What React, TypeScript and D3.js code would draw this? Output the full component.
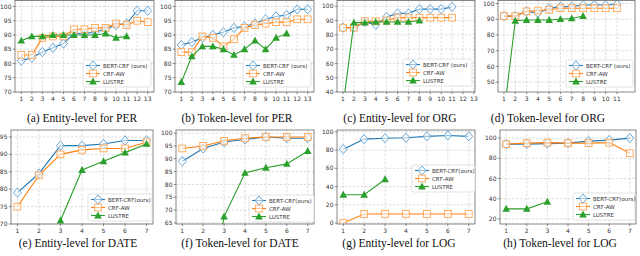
import React from 'react';
import * as d3 from 'd3';

// x positions (number of training steps)
const x13 = [1, 2, 3, 4, 5, 6, 7, 8, 9, 10, 11, 12, 13];
const x11 = [1, 2, 3, 4, 5, 6, 7, 8, 9, 10, 11];
const x8 = [1, 2, 3, 4, 5, 6, 7, 8];
const x7 = [1, 2, 3, 4, 5, 6, 7];
const x3 = [1, 2, 3];
const x3to7 = [3, 4, 5, 6, 7];
const x2to7 = [2, 3, 4, 5, 6, 7];

// (a) Entity-level PER
const perEntBert = [81, 82, 84, 85.5, 87, 90.5, 90.5, 91, 92, 93.5, 94, 98.5, 98.5];
const perEntCrf = [83, 83, 89, 89.5, 89.5, 92, 92, 92.5, 92.5, 94, 93.5, 95, 94.5];
const perEntLustre = [88, 89.5, 89.5, 90, 90, 90, 90, 90, 90.5, 89, 89.5];
// (b) Token-level PER
const perTokBert = [86.5, 87.5, 89, 90, 91, 92.5, 93, 94, 95.5, 96.5, 97, 99, 99];
const perTokCrf = [84, 84, 89.5, 89, 86, 88.5, 92.5, 93.5, 94, 94.5, 94.5, 95.5, 95.5];
const perTokLustre = [73.5, 82.5, 86, 86, 85, 83, 85, 88, 85, 89, 90.5];
// (c) Entity-level ORG
const orgEntBert = [85, 85, 89, 87, 92.5, 95, 95, 98, 98, 98, 99.5];
const orgEntCrf = [85, 85, 89.5, 89.5, 90, 92, 92, 92, 92, 92, 92];
const orgEntLustre = [30, 88.5, 88.5, 89, 89, 89, 89, 90];
// (d) Token-level ORG
const orgTokBert = [92, 92, 95, 94, 97, 98, 98, 99, 99, 99, 99.5];
const orgTokCrf = [92, 92, 95, 95.5, 96, 97, 97, 97, 97, 97, 97];
const orgTokLustre = [30, 89, 89.5, 89.5, 89.5, 90, 90.5, 92];
// (e) Entity-level DATE
const dateEntBert = [79, 84.5, 92.5, 92.5, 93, 94, 94];
const dateEntCrf = [75, 84, 90, 91.3, 91.7, 91.7, 93.5];
const dateEntLustre = [71, 85.5, 88, 90.5, 93];
// (f) Token-level DATE
const dateTokBert = [89, 94, 96.5, 97.5, 98.5, 98, 98];
const dateTokCrf = [94, 95, 97, 98, 98.5, 98.5, 98.5];
const dateTokLustre = [20, 67.5, 84.5, 86.5, 88, 93];
// (g) Entity-level LOG
const logEntBert = [81, 92, 93, 93.5, 95, 96, 95];
const logEntCrf = [0, 10, 10, 10, 10, 10, 10];
const logEntLustre = [31, 31, 48];
// (h) Token-level LOG
const logTokBert = [94, 94, 94.5, 95, 97, 98, 100];
const logTokCrf = [94, 95, 95.5, 95, 95, 95.5, 85];
const logTokLustre = [30, 30, 37];

const ticks7 = x7;
const yTicksPer = [70, 75, 80, 85, 90, 95, 100];
const yTicksOrgE = [40, 50, 60, 70, 80, 90, 100];
const yTicksOrgT = [50, 60, 70, 80, 90, 100];
const yTicksDateE = [70, 75, 80, 85, 90, 95];
const yTicksDateT = [65, 70, 75, 80, 85, 90, 95, 100];
const yTicksLog = [0, 20, 40, 60, 80, 100];
const yTicksLogT = [20, 40, 60, 80, 100];

const BLUE = '#1f77b4';
const ORANGE = '#ff7f0e';
const GREEN = '#2ca02c';

type Kind = 'bert' | 'crf' | 'lustre';
interface Series { kind: Kind; xs: number[]; ys: number[] }
interface PanelCfg {
  id: string;
  caption: string;
  captionX: number;
  left: number; right: number; top: number; bottom: number;
  xDomain: [number, number];
  yDomain: [number, number];
  xTicks: number[];
  yTicks: number[];
  legend: [number, number, number];
  bertLabel: string;
  series: Series[];
}

const mk = (b: number[], bx: number[], c: number[], cx: number[], l: number[], lx: number[]): Series[] => [
  { kind: 'bert', xs: bx, ys: b },
  { kind: 'crf', xs: cx, ys: c },
  { kind: 'lustre', xs: lx, ys: l },
];

const topRow = { top: 0.5, bottom: 92 };
const botRow = { top: 130, bottom: 224 };

const panels: PanelCfg[] = [
  { id: 'a', caption: '(a) Entity-level for PER', captionX: 82, left: 15, right: 154, ...topRow,
    xDomain: [0.4, 13.6], yDomain: [70, 102.1], xTicks: x13, yTicks: yTicksPer, legend: [83, 60, 68],
    bertLabel: 'BERT-CRF (ours)', series: mk(perEntBert, x13, perEntCrf, x13, perEntLustre, x11) },
  { id: 'b', caption: '(b) Token-level for PER', captionX: 237, left: 175, right: 314, ...topRow,
    xDomain: [0.4, 13.6], yDomain: [70, 102.1], xTicks: x13, yTicks: yTicksPer, legend: [243, 60, 68],
    bertLabel: 'BERT-CRF (ours)', series: mk(perTokBert, x13, perTokCrf, x13, perTokLustre, x11) },
  { id: 'c', caption: '(c) Entity-level for ORG', captionX: 400, left: 337, right: 475, ...topRow,
    xDomain: [0.45, 13.1], yDomain: [40, 104], xTicks: x13, yTicks: yTicksOrgE, legend: [403, 59, 69],
    bertLabel: 'BERT-CRF (ours)', series: mk(orgEntBert, x11, orgEntCrf, x11, orgEntLustre, x8) },
  { id: 'd', caption: '(d) Token-level for ORG', captionX: 548, left: 498, right: 635, ...topRow,
    xDomain: [0.47, 12.6], yDomain: [43.75, 101.9], xTicks: x11, yTicks: yTicksOrgT, legend: [566, 60, 67],
    bertLabel: 'BERT-CRF (ours)', series: mk(orgTokBert, x11, orgTokCrf, x11, orgTokLustre, x8) },
  { id: 'e', caption: '(e) Entity-level for DATE', captionX: 78, left: 11, right: 153, ...botRow,
    xDomain: [0.7, 7.3], yDomain: [70, 97], xTicks: ticks7, yTicks: yTicksDateE, legend: [88, 194, 64],
    bertLabel: 'BERT-CRF(ours)', series: mk(dateEntBert, x7, dateEntCrf, x7, dateEntLustre, x3to7) },
  { id: 'f', caption: '(f) Token-level for DATE', captionX: 240, left: 176, right: 314, ...botRow,
    xDomain: [0.7, 7.3], yDomain: [64.6, 101.2], xTicks: ticks7, yTicks: yTicksDateT, legend: [249, 195, 65],
    bertLabel: 'BERT-CRF(ours)', series: mk(dateTokBert, x7, dateTokCrf, x7, dateTokLustre, x2to7) },
  { id: 'g', caption: '(g) Entity-level for LOG', captionX: 399, left: 337, right: 475, ...botRow,
    xDomain: [0.7, 7.3], yDomain: [-1, 102], xTicks: ticks7, yTicks: yTicksLog, legend: [412, 165, 63],
    bertLabel: 'BERT-CRF(ours)', series: mk(logEntBert, x7, logEntCrf, x7, logEntLustre, x3) },
  { id: 'h', caption: '(h) Token-level for LOG', captionX: 560, left: 500, right: 636, ...botRow,
    xDomain: [0.7, 7.3], yDomain: [15, 108], xTicks: ticks7, yTicks: yTicksLogT, legend: [573, 193, 62],
    bertLabel: 'BERT-CRF(ours)', series: mk(logTokBert, x7, logTokCrf, x7, logTokLustre, x3) },
];

const lineColor: Record<Kind, string> = { bert: BLUE, crf: ORANGE, lustre: GREEN };

function Marker({ kind, x, y }: { kind: Kind; x: number; y: number }) {
  if (kind === 'bert') {
    const p = d3.path();
    p.moveTo(x, y - 4.6); p.lineTo(x + 4, y); p.lineTo(x, y + 4.6); p.lineTo(x - 4, y); p.closePath();
    return <path d={p.toString()} fill="#fff" fillOpacity={0.55} stroke="#5a9fd4" strokeWidth={0.9} />;
  }
  if (kind === 'crf') {
    return <rect x={x - 3.4} y={y - 3.4} width={6.8} height={6.8} fill="#fff" fillOpacity={0.55} stroke="#ffa552" strokeWidth={0.9} />;
  }
  const p = d3.path();
  p.moveTo(x, y - 4); p.lineTo(x + 3.8, y + 2.9); p.lineTo(x - 3.8, y + 2.9); p.closePath();
  return <path d={p.toString()} fill={GREEN} />;
}

function Panel({ cfg }: { cfg: PanelCfg }) {
  const x = d3.scaleLinear().domain(cfg.xDomain).range([cfg.left, cfg.right]);
  const y = d3.scaleLinear().domain(cfg.yDomain).range([cfg.bottom, cfg.top]);
  const clipId = `clip-${cfg.id}`;
  const [lx, ly, lw] = cfg.legend;
  const labels: Record<Kind, string> = { bert: cfg.bertLabel, crf: 'CRF-AW', lustre: 'LUSTRE' };
  const order: Kind[] = ['bert', 'crf', 'lustre'];
  return (
    <g>
      <clipPath id={clipId}>
        <rect x={cfg.left} y={cfg.top} width={cfg.right - cfg.left} height={cfg.bottom - cfg.top} />
      </clipPath>
      <rect x={cfg.left} y={cfg.top} width={cfg.right - cfg.left} height={cfg.bottom - cfg.top} fill="#fff" />
      {/* dashed grid */}
      {cfg.xTicks.map((t) => (
        <line key={`gx${t}`} x1={x(t)} x2={x(t)} y1={cfg.top} y2={cfg.bottom} stroke="#c8c8c8" strokeWidth={0.6} strokeDasharray="2.5,1.5" />
      ))}
      {cfg.yTicks.map((t) => (
        <line key={`gy${t}`} x1={cfg.left} x2={cfg.right} y1={y(t)} y2={y(t)} stroke="#c8c8c8" strokeWidth={0.6} strokeDasharray="2.5,1.5" />
      ))}
      <g clipPath={`url(#${clipId})`}>
        {cfg.series.map((s) => {
          const pts = s.xs.map((v, i) => [x(v), y(s.ys[i])] as [number, number]);
          return (
            <g key={s.kind}>
              <path d={d3.line()(pts) || ''} fill="none" stroke={lineColor[s.kind]} strokeWidth={1.1} />
              {pts.map((p, i) => <Marker key={i} kind={s.kind} x={p[0]} y={p[1]} />)}
            </g>
          );
        })}
      </g>
      <rect x={cfg.left} y={cfg.top} width={cfg.right - cfg.left} height={cfg.bottom - cfg.top} fill="none" stroke="#555" strokeWidth={0.7} />
      {/* axes ticks */}
      {cfg.xTicks.map((t) => (
        <g key={`tx${t}`}>
          <line x1={x(t)} x2={x(t)} y1={cfg.bottom} y2={cfg.bottom + 2.2} stroke="#444" strokeWidth={0.6} />
          <text x={x(t)} y={cfg.bottom + 9} fontSize={6} textAnchor="middle" fill="#333">{t}</text>
        </g>
      ))}
      {cfg.yTicks.map((t) => (
        <g key={`ty${t}`}>
          <line x1={cfg.left - 2.2} x2={cfg.left} y1={y(t)} y2={y(t)} stroke="#444" strokeWidth={0.6} />
          <text x={cfg.left - 3.5} y={y(t) + 2.1} fontSize={6} textAnchor="end" fill="#333">{t}</text>
        </g>
      ))}
      {/* legend */}
      <rect x={lx} y={ly} width={lw} height={27} rx={1.5} fill="#fff" fillOpacity={0.85} stroke="#d0d0d0" strokeWidth={0.6} />
      {order.map((k, i) => {
        const yy = ly + 5.5 + i * 8;
        return (
          <g key={k}>
            <line x1={lx + 3} x2={lx + 17} y1={yy} y2={yy} stroke={lineColor[k]} strokeWidth={1.1} />
            <Marker kind={k} x={lx + 10} y={yy} />
            <text x={lx + 20} y={yy + 2} fontSize={5.5} fill="#333">{labels[k]}</text>
          </g>
        );
      })}
      <text x={cfg.captionX} y={cfg.bottom === 92 ? 121.5 : 247} fontSize={11.5} textAnchor="middle" fontFamily="'Liberation Serif', serif" fill="#111">{cfg.caption}</text>
    </g>
  );
}

export default function App() {
  return (
    <svg width={640} height={256} style={{ position: 'absolute', left: 0, top: 0 }} fontFamily="'DejaVu Sans', sans-serif">
      <rect width={640} height={256} fill="#fff" />
      {panels.map((p) => <Panel key={p.id} cfg={p} />)}
    </svg>
  );
}
